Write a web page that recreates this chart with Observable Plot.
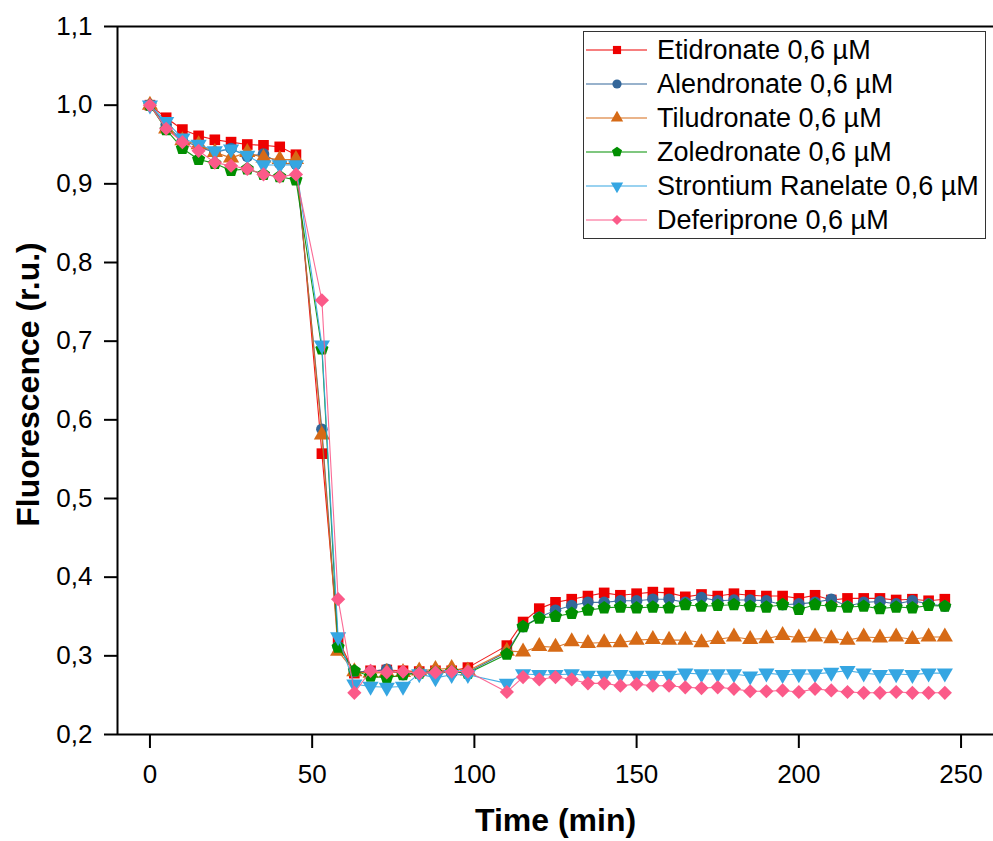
<!DOCTYPE html>
<html>
<head>
<meta charset="utf-8">
<script src="https://cdn.jsdelivr.net/npm/d3@7"></script>
<script src="https://cdn.jsdelivr.net/npm/@observablehq/plot@0.6"></script>
<style>
  html, body { margin: 0; padding: 0; background: #fff; }
  #chart { position: relative; width: 993px; height: 841px; }
</style>
</head>
<body>
<div id="chart"></div>
<script>
const times = [0,5,10,15,20,25,30,35,40,45,53,58,63,68,73,78,83,88,93,98,110,115,120,125,130,135,140,145,150,155,160,165,170,175,180,185,190,195,200,205,210,215,220,225,230,235,240,245];

const etidronate = [1.000,0.984,0.969,0.961,0.956,0.953,0.950,0.949,0.947,0.937,
  0.557,0.321,0.278,0.281,0.282,0.281,0.280,0.281,0.281,0.285,
  0.313,
  0.343,0.360,0.368,0.372,0.376,0.380,0.377,0.379,0.381,0.380,0.375,0.378,0.376,0.379,
  0.377,0.376,0.376,0.373,0.377,0.371,0.373,0.373,0.373,0.371,0.372,0.370,0.372];
const alendronate = [1.000,0.975,0.955,0.947,0.940,0.945,0.935,0.938,0.926,0.925,
  0.588,0.312,0.280,0.280,0.283,0.276,0.279,0.280,0.279,0.279,
  0.305,
  0.337,0.349,0.358,0.364,0.368,0.368,0.370,0.370,0.372,0.372,0.368,0.374,0.370,0.371,
  0.371,0.370,0.365,0.366,0.368,0.372,0.363,0.368,0.369,0.366,0.370,0.366,0.363];
const tiludronate = [1.000,0.970,0.955,0.950,0.940,0.933,0.940,0.933,0.931,0.931,
  0.581,0.306,0.280,0.278,0.279,0.279,0.281,0.283,0.284,0.281,
  0.306,
  0.305,0.312,0.311,0.318,0.316,0.317,0.317,0.320,0.321,0.320,0.320,0.317,0.321,0.324,
  0.321,0.322,0.326,0.323,0.324,0.322,0.320,0.324,0.323,0.324,0.321,0.324,0.324];
const zoledronate = [1.000,0.969,0.945,0.931,0.926,0.917,0.919,0.912,0.909,0.905,
  0.690,0.311,0.281,0.274,0.272,0.276,0.278,0.279,0.280,0.278,
  0.302,
  0.337,0.348,0.350,0.354,0.358,0.361,0.362,0.361,0.362,0.361,0.365,0.363,0.364,0.365,
  0.363,0.362,0.365,0.359,0.365,0.363,0.362,0.363,0.360,0.362,0.361,0.364,0.363];
const strontium = [1.000,0.979,0.958,0.950,0.942,0.944,0.936,0.924,0.924,0.924,
  0.695,0.324,0.264,0.261,0.260,0.261,0.277,0.272,0.276,0.276,
  0.265,
  0.277,0.276,0.276,0.277,0.275,0.275,0.276,0.275,0.275,0.275,0.278,0.277,0.277,0.277,
  0.274,0.278,0.276,0.277,0.277,0.279,0.281,0.278,0.276,0.277,0.276,0.278,0.278];
const deferiprone = [1.000,0.970,0.953,0.942,0.927,0.923,0.919,0.912,0.909,0.912,
  0.752,0.372,0.253,0.281,0.279,0.280,0.278,0.279,0.280,0.280,
  0.254,
  0.273,0.270,0.273,0.270,0.265,0.265,0.262,0.264,0.262,0.262,0.260,0.259,0.260,0.258,
  0.255,0.255,0.256,0.254,0.258,0.256,0.254,0.253,0.253,0.254,0.253,0.253,0.253];

const seriesNames = ["Etidronate 0,6 µM","Alendronate 0,6 µM","Tiludronate 0,6 µM","Zoledronate 0,6 µM","Strontium Ranelate 0,6 µM","Deferiprone 0,6 µM"];
const seriesValues = [etidronate, alendronate, tiludronate, zoledronate, strontium, deferiprone];
const seriesColors = ["#ee0000","#336699","#d66a16","#008f00","#35a6e2","#fb5a89"];

const xDomain = [-10, 260];
const yDomain = [0.2, 1.1];
const xTicks = [0,50,100,150,200,250];
const yTicks = [0.2,0.3,0.4,0.5,0.6,0.7,0.8,0.9,1.0,1.1];

// custom symbols
const symbolPentagon = {
  draw(ctx, size) {
    const R = Math.sqrt(size / 2.378);
    for (let i = 0; i < 5; i++) {
      const a = -Math.PI / 2 + i * 2 * Math.PI / 5;
      const x = R * Math.cos(a), y = R * Math.sin(a);
      if (i === 0) ctx.moveTo(x, y); else ctx.lineTo(x, y);
    }
    ctx.closePath();
  }
};
const symbolTriangleDown = {
  draw(ctx, size) {
    const y = -Math.sqrt(size / (Math.sqrt(3) * 3));
    ctx.moveTo(0, -y * 2);
    ctx.lineTo(-Math.sqrt(3) * y, y);
    ctx.lineTo(Math.sqrt(3) * y, y);
    ctx.closePath();
  }
};
const seriesSymbols = [d3.symbolSquare, d3.symbolCircle, d3.symbolTriangle, symbolPentagon, symbolTriangleDown, d3.symbolDiamond2];
const seriesR = [6.0, 5.8, 6.0, 6.0, 6.0, 6.4];

const rows = [];
seriesNames.forEach((name, s) => {
  times.forEach((t, i) => rows.push({series: name, s, time: t, value: seriesValues[s][i]}));
});

const fmt = v => d3.format(".1f")(v).replace(".", ",");
const font = "'Liberation Sans', Arial, Helvetica, sans-serif";

const marks = [];
seriesNames.forEach((name, s) => {
  const data = rows.filter(d => d.s === s);
  marks.push(Plot.line(data, {x: "time", y: "value", stroke: seriesColors[s], strokeWidth: 1.1, strokeOpacity: 0.9}));
  marks.push(Plot.dot(data, {x: "time", y: "value", fill: seriesColors[s], stroke: "none", symbol: seriesSymbols[s], r: seriesR[s]}));
});

const plot = Plot.plot({
  width: 993,
  height: 841,
  marginLeft: 117,
  marginRight: 0,
  marginTop: 26,
  marginBottom: 107,
  style: {fontFamily: font, background: "#fff", color: "#000"},
  x: {domain: xDomain},
  y: {domain: yDomain},
  marks: [
    ...marks,
    Plot.ruleX([xDomain[0]], {stroke: "#000", strokeWidth: 2}),
    Plot.ruleY([yDomain[0]], {stroke: "#000", strokeWidth: 2}),
    Plot.ruleY([yDomain[1]], {stroke: "#000", strokeWidth: 2}),
    Plot.axisY({ticks: yTicks, tickFormat: fmt, tickSize: 13, tickPadding: 12, fontSize: 26, strokeWidth: 2, label: null}),
    Plot.axisX({ticks: xTicks, tickFormat: d => String(d), tickSize: 14, tickPadding: 16, fontSize: 26, strokeWidth: 2, label: null}),
    Plot.text(["Fluorescence (r.u.)"], {frameAnchor: "left", textAnchor: "middle", lineAnchor: "middle", rotate: -90, dx: -89, dy: 4, fontSize: 32, fontWeight: "bold", fill: "#000"}),
    Plot.text(["Time (min)"], {frameAnchor: "bottom", lineAnchor: "middle", dy: 86, fontSize: 32, fontWeight: "bold", fill: "#000"})
  ]
});

document.getElementById("chart").appendChild(plot);

// Legend inside the SVG
const svg = d3.select(plot);
const lg = svg.append("g").attr("font-family", font).attr("text-anchor", "start");
lg.append("rect").attr("x", 583.5).attr("y", 31.5).attr("width", 402).attr("height", 207)
  .attr("fill", "#fff").attr("stroke", "#333").attr("stroke-width", 1);
seriesNames.forEach((name, s) => {
  const cy = 50 + s * 34;
  lg.append("line").attr("x1", 586).attr("x2", 647).attr("y1", cy).attr("y2", cy)
    .attr("stroke", seriesColors[s]).attr("stroke-width", 1.1);
  lg.append("path").attr("d", d3.symbol(seriesSymbols[s], Math.PI * 4.6 * 4.6)())
    .attr("transform", `translate(617,${cy})`).attr("fill", seriesColors[s]);
  lg.append("text").attr("x", 657).attr("y", cy).attr("dy", "0.35em").attr("text-anchor", "start")
    .attr("font-size", 27).attr("fill", "#000").text(name);
});
</script>
</body>
</html>
